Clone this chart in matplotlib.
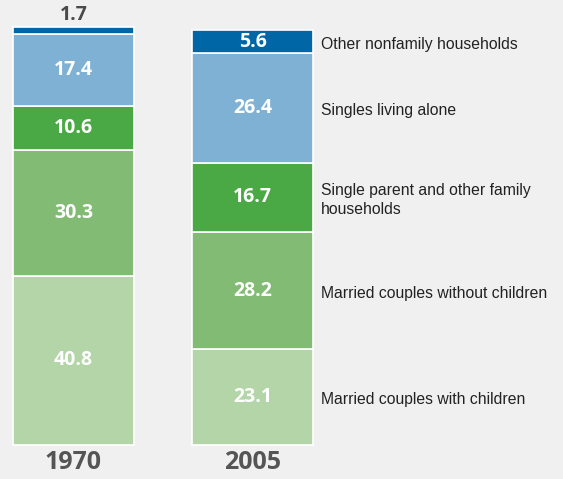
import numpy as np
import matplotlib
matplotlib.use("Agg")
import matplotlib.pyplot as plt
from matplotlib import font_manager

years = ["1970", "2005"]
categories = ["Married couples with children",
              "Married couples without children",
              "Single parent and other family\nhouseholds",
              "Singles living alone",
              "Other nonfamily households"]
# values bottom -> top
v1970 = [40.8, 30.3, 10.6, 17.4, 1.7]
v2005 = [23.1, 28.2, 16.7, 26.4, 5.6]
colors = ["#b3d5a8", "#82bc74", "#4aa845", "#7fb1d4", "#0066a6"]

names = sorted(set(f.name for f in font_manager.fontManager.ttflist))
has_narrow = "Liberation Sans Narrow" in names

bg = "#f0f0f0"
fig = plt.figure(figsize=(5.63, 4.79), dpi=100, facecolor=bg)
ax = fig.add_axes([0, 0, 1, 1])
ax.set_facecolor(bg)
ax.set_xlim(-0.4106, 2.7346)
ax.set_ylim(-8.19, 107.2)
ax.axis("off")

num_font = ["Open Sans", "DejaVu Sans"]
if has_narrow:
    lab_font = ["Liberation Sans Narrow"]
    lab_size = 13
else:
    lab_font = ["Liberation Sans"]
    lab_size = 11.3
w = 0.676

for xi, vals in enumerate([v1970, v2005]):
    bottom = 0
    for i, v in enumerate(vals):
        ax.bar(xi, v, w, bottom=bottom, color=colors[i], edgecolor="white",
               linewidth=1.2)
        mid = bottom + v / 2
        if v >= 5:
            ax.text(xi, mid, f"{v}", ha="center", va="center", color="white",
                    fontsize=14, fontweight="bold", family=num_font)
        else:
            ax.text(xi, bottom + v + 0.4, f"{v}", ha="center", va="bottom",
                    color="#4a4a4a", fontsize=14, fontweight="bold",
                    family=num_font)
        if xi == 1:
            ax.text(1.383, mid - 0.6, categories[i], ha="left", va="center",
                    color="#222222", fontsize=lab_size, family=lab_font,
                    linespacing=1.35)
        bottom += v
    ax.text(xi, -1.2, years[xi], ha="center", va="top", color="#555555",
            fontsize=18, fontweight="bold", family=num_font)

fig.savefig("out.png", dpi=100, facecolor=bg)
